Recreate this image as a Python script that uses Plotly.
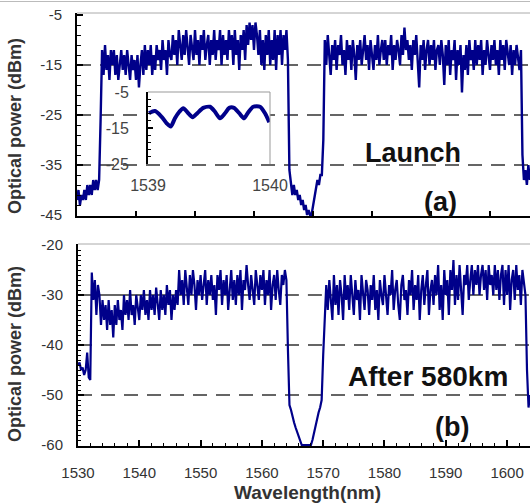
import plotly.graph_objects as go

W, H = 530, 504

# OSA sampling grid (nm)
SPEC_START = 1530.0
SPEC_STEP = 0.25

# (a) launch spectrum, dBm, one row = 2 nm
launch_dbm = [
    -42, -40, -43, -41, -42, -40, -42, -39,
    -41, -39, -41, -38, -40, -38, -40, -38,
    -26, -12, -17, -11, -16, -13, -18, -12,
    -15, -12, -17, -13, -18, -14, -12, -16,
    -13, -17, -12, -15, -18, -13, -16, -14,
    -18, -13, -19.5, -15, -12, -17, -11, -16,
    -12, -15, -11, -17, -13, -16, -11, -14,
    -12, -16, -10, -14, -12, -17, -10, -13,
    -14, -9, -13, -10, -15, -8, -12, -14,
    -9, -13, -8, -12, -15, -9, -11, -14,
    -8, -13, -10, -15, -9, -12, -8, -14,
    -11, -9, -15, -10, -13, -8, -14, -10,
    -12, -8, -15, -9, -13, -10, -14, -8,
    -12, -9, -15, -8, -13, -10, -16, -9,
    -12, -8, -14, -7, -11, -6.5, -10, -7,
    -12, -6.5, -9, -13, -8, -15, -10, -16,
    -9, -13, -8, -15, -10, -14, -8, -16,
    -9, -13, -8, -15, -9, -12, -8, -14,
    -36, -39, -41, -39, -41, -40, -42, -41,
    -43, -42, -44, -43, -45, -44, -45, -45,
    -43, -41, -40, -38, -39, -37, -37, -30,
    -10, -15, -9, -13, -17, -11, -14, -10,
    -16, -11, -13, -9, -15, -12, -17, -10,
    -14, -11, -16, -10, -13, -18, -11, -14,
    -10, -15, -12, -9, -14, -11, -16, -10,
    -13, -16, -11, -14, -9, -15, -12, -10,
    -14, -10, -15, -11, -13, -9, -16, -11,
    -14, -10, -12, -15, -9, -13, -7.5, -12,
    -10, -14, -11, -16, -10, -13, -9, -15,
    -19.5, -11, -14, -10, -16, -12, -10, -15,
    -11, -14, -10, -16, -12, -11, -15, -10,
    -13, -19, -11, -15, -10, -17, -12, -14,
    -10, -18, -12, -15, -11, -20.5, -13, -16,
    -11, -17, -10, -14, -12, -16, -10, -15,
    -11, -14, -10, -17, -12, -15, -10, -13,
    -16, -11, -14, -10, -15, -12, -17, -10,
    -14, -11, -16, -10, -13, -15, -11, -17,
    -12, -15, -11, -14, -16, -12, -33, -38,
    -36, -39, -35, -38,
]

# (b) spectrum after 580 km, dBm, one row = 2 nm
after_dbm = [
    -44, -43.5, -45, -44.5, -46, -45, -41.5, -46.5,
    -47, -25.5, -31, -27, -34, -28, -30, -36,
    -31, -35, -32, -37, -31, -36, -33, -38.5,
    -32, -36, -31, -35, -33, -37, -30, -34,
    -31, -35, -29, -34, -32, -36, -30, -33,
    -35, -30, -33, -29, -34, -31, -35, -29,
    -33, -30, -34, -28.5, -32, -35, -29, -33,
    -30, -34, -28, -32, -29, -35, -30, -33,
    -29, -32, -25, -30, -27, -32, -25, -29,
    -32, -26, -30, -25, -28, -33, -27, -30,
    -26, -31, -28, -25, -32, -27, -30, -26,
    -31, -28, -34, -26, -29, -25, -32, -27,
    -30, -26, -33, -28, -25, -31, -27, -32,
    -26, -30, -25, -33, -27, -29, -24, -28,
    -31, -26, -29, -32, -25, -28, -31, -26,
    -29, -25, -32, -27, -30, -25, -33, -28,
    -26, -31, -25, -29, -32, -26, -28, -25,
    -27, -41, -52, -53, -54.5, -55.5, -56.5, -57.5,
    -58, -59, -60, -60, -60, -60, -60, -60,
    -60, -59, -57.5, -56, -55, -53.5, -52.5, -51,
    -42, -34, -28, -33, -27, -31, -35, -26,
    -32, -28, -34, -27, -30, -35, -26, -31,
    -28, -33, -26, -30, -34, -27, -31, -29,
    -35, -26, -30, -33, -27, -29, -34, -28,
    -31, -26, -33, -29, -35, -27, -30, -32,
    -26, -31, -34, -28, -30, -25, -33, -29,
    -27, -32, -35, -28, -26, -31, -29, -34,
    -27, -30, -25, -33, -28, -31, -26, -35,
    -29, -26, -32, -28, -25, -34, -29, -27,
    -32, -26, -30, -24, -33, -28, -35, -25,
    -30, -27, -34, -25, -29, -23, -32, -26,
    -31, -24, -29, -34, -26, -28, -24, -31,
    -27, -24, -30, -25, -28, -24, -30, -26,
    -24, -29, -25, -31, -24, -28, -26, -30,
    -24, -29, -25, -31, -26, -24, -32, -25,
    -30, -24, -33, -27, -25, -31, -24, -29,
    -26, -32, -25, -28, -30, -45, -52.5, -50,
]

# inset: zoom on 1539-1540 nm of the launch spectrum
inset_nm = [1539.008, 1539.057, 1539.112, 1539.153, 1539.186, 1539.221, 1539.257,
            1539.289, 1539.330, 1539.366, 1539.404, 1539.453, 1539.508, 1539.549,
            1539.590, 1539.631, 1539.666, 1539.705, 1539.748, 1539.787, 1539.822,
            1539.863, 1539.918, 1539.959, 1539.994]
inset_dbm = [-10.9, -10.3, -11.9, -13.7, -14.6, -12.3, -10.5, -9.5, -10.9, -12.0,
             -10.9, -9.4, -9.1, -10.5, -12.3, -10.9, -9.4, -9.4, -10.9, -12.3,
             -10.6, -9.1, -9.1, -10.9, -13.4]

launch_yticks = [-5, -15, -25, -35, -45]
after_yticks = [-20, -30, -40, -50, -60]
wavelength_ticks = [1530, 1540, 1550, 1560, 1570, 1580, 1590, 1600]
inset_yticks = [-5, -15, -25]
inset_xticks = [1539, 1540]

launch_grid = [-15, -25, -35]
after_grid_dashed = [-40, -50]
after_grid_mixed = -30

LINE = "#00008a"
INK = "#333333"
FONT = "Liberation Sans, Arial, sans-serif"
DASH = "14px,9px"


def px_x(p):
    return p / W


def px_y(p):
    return 1 - p / H


launch_nm = [SPEC_START + SPEC_STEP * i for i in range(len(launch_dbm))]
after_nm = [SPEC_START + SPEC_STEP * i for i in range(len(after_dbm))]

fig = go.Figure()
fig.add_trace(go.Scatter(x=launch_nm, y=launch_dbm, mode="lines",
                         line=dict(color=LINE, width=2.4), xaxis="x", yaxis="y",
                         hoverinfo="skip"))
fig.add_trace(go.Scatter(x=after_nm, y=after_dbm, mode="lines",
                         line=dict(color=LINE, width=2.2), xaxis="x2", yaxis="y2",
                         hoverinfo="skip"))
fig.add_trace(go.Scatter(x=inset_nm, y=inset_dbm, mode="lines",
                         line=dict(color=LINE, width=4, shape="spline", smoothing=0.7),
                         xaxis="x3", yaxis="y3", hoverinfo="skip"))

tickfont = dict(family=FONT, size=15, color=INK)
axis_common = dict(showline=True, linecolor="black", linewidth=2, ticks="inside",
                   tickcolor="black", showgrid=False, zeroline=False, mirror=False,
                   automargin=False)

fig.update_layout(
    template="none",
    width=W, height=H, margin=dict(l=0, r=0, t=0, b=0, pad=0),
    paper_bgcolor="white", plot_bgcolor="white", showlegend=False,
    xaxis=dict(**axis_common, domain=[px_x(77), 1], anchor="y",
               range=[1530, 1606.78], tickmode="array", tickvals=wavelength_ticks,
               ticklen=5, tickwidth=1.5, showticklabels=False),
    yaxis=dict(**axis_common, domain=[px_y(216), px_y(13)], anchor="x",
               range=[-45.2, -4.6], tickmode="array", tickvals=launch_yticks,
               ticktext=[str(v) for v in launch_yticks], ticklen=6, tickwidth=1.5,
               tickfont=tickfont, ticklabelstandoff=10,
               minor=dict(ticks="inside", tickmode="linear", tick0=-5, dtick=2,
                          ticklen=3.5, tickcolor="black", tickwidth=1)),
    xaxis2=dict(**axis_common, domain=[px_x(78), 1], anchor="y2",
                range=[1530, 1603.74], tickmode="array", tickvals=wavelength_ticks,
                ticktext=[str(v) for v in wavelength_ticks], ticklen=6, tickwidth=1.5,
                tickfont=tickfont, ticklabelstandoff=12,
                minor=dict(ticks="inside", tickmode="linear", tick0=1530, dtick=2,
                           ticklen=3.5, tickcolor="black", tickwidth=1)),
    yaxis2=dict(**axis_common, domain=[px_y(446), px_y(244)], anchor="x2",
                range=[-60.2, -19.8], tickmode="array", tickvals=after_yticks,
                ticktext=[str(v) for v in after_yticks], ticklen=6, tickwidth=1.5,
                tickfont=tickfont, ticklabelstandoff=10,
                minor=dict(ticks="inside", tickmode="linear", tick0=-20, dtick=1,
                           ticklen=3, tickcolor="black", tickwidth=1)),
    xaxis3=dict(domain=[px_x(148), px_x(270)], anchor="y3", range=[1539, 1540],
                showline=False, zeroline=False, showgrid=False, ticks="",
                automargin=False, tickmode="array", tickvals=inset_xticks,
                ticktext=[str(v) for v in inset_xticks],
                tickfont=dict(family=FONT, size=16, color="#444"), ticklabelstandoff=10),
    yaxis3=dict(**axis_common, domain=[px_y(164), px_y(92)], anchor="x3",
                range=[-25, -5], tickmode="array", tickvals=inset_yticks,
                ticktext=[str(v) for v in inset_yticks], ticklen=5, tickwidth=1.5,
                tickfont=dict(family=FONT, size=16, color="#444"), ticklabelstandoff=14,
                minor=dict(ticks="inside", tickmode="linear", tick0=-5, dtick=2,
                           ticklen=3, tickcolor="black", tickwidth=1)),
)

shapes = []
# frame lines
shapes.append(dict(type="line", xref="paper", yref="paper", x0=0, x1=1,
                   y0=px_y(1.5), y1=px_y(1.5), line=dict(color="#bbbbbb", width=1)))
shapes.append(dict(type="line", xref="paper", yref="paper", x0=px_x(77), x1=1,
                   y0=px_y(13), y1=px_y(13), line=dict(color="#aaaaaa", width=1)))
shapes.append(dict(type="line", xref="paper", yref="paper", x0=px_x(78), x1=1,
                   y0=px_y(244), y1=px_y(244), line=dict(color="#aaaaaa", width=1)))

# dashed grid, panel (a)
for v in launch_grid:
    shapes.append(dict(type="line", xref="x domain", yref="y", x0=0, x1=1, y0=v, y1=v,
                       layer="below", line=dict(color=INK, width=1.5, dash=DASH)))
# grid, panel (b)
shapes.append(dict(type="line", xref="x2", yref="y2", x0=1530, x1=1560,
                   y0=after_grid_mixed, y1=after_grid_mixed, layer="below",
                   line=dict(color=INK, width=1.5)))
shapes.append(dict(type="line", xref="x2", yref="y2", x0=1560, x1=1603.74,
                   y0=after_grid_mixed, y1=after_grid_mixed, layer="below",
                   line=dict(color=INK, width=1.5, dash=DASH)))
for v in after_grid_dashed:
    shapes.append(dict(type="line", xref="x2 domain", yref="y2", x0=0, x1=1, y0=v, y1=v,
                       layer="below", line=dict(color=INK, width=1.5, dash=DASH)))

# inset panel
shapes.append(dict(type="rect", xref="x3 domain", yref="y3 domain", x0=0, x1=1, y0=0, y1=1,
                   layer="below", fillcolor="white", line=dict(width=0)))
for v in [-15, -25]:
    shapes.append(dict(type="line", xref="x3 domain", yref="y3", x0=0, x1=1, y0=v, y1=v,
                       layer="below", line=dict(color=INK, width=1.5, dash=DASH)))
shapes.append(dict(type="line", xref="x3 domain", yref="y3 domain", x0=0, x1=1, y0=1, y1=1,
                   line=dict(color="#999999", width=1)))
shapes.append(dict(type="line", xref="x3 domain", yref="y3 domain", x0=1, x1=1, y0=0, y1=1,
                   line=dict(color="#999999", width=1)))
fig.update_layout(shapes=shapes)

label_font = dict(family=FONT, size=27, color="#111111", weight="bold")
title_font = dict(family=FONT, size=18, color=INK, weight="bold")
notes = [
    ("Launch", 413, 153, label_font, 0),
    ("(a)", 440, 202, label_font, 0),
    ("After 580km", 428, 376, dict(family=FONT, size=28, color="#111111", weight="bold"), 0),
    ("(b)", 452, 427, label_font, 0),
    ("Optical power (dBm)", 15, 126, title_font, -90),
    ("Optical power (dBm)", 15, 354, title_font, -90),
    ("Wavelength(nm)", 307, 492, dict(family=FONT, size=19, color=INK, weight="bold"), 0),
]
for text, x, y, f, ang in notes:
    fig.add_annotation(text=text, xref="paper", yref="paper", x=px_x(x), y=px_y(y),
                       xanchor="center", yanchor="middle", showarrow=False,
                       font=f, textangle=ang)

fig.write_html("out.html")
